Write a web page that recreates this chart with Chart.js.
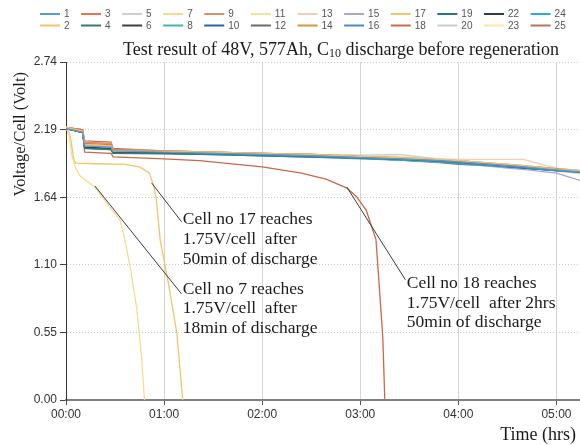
<!DOCTYPE html>
<html>
<head>
<meta charset="utf-8">
<script src="https://cdn.jsdelivr.net/npm/chart.js@4/dist/chart.umd.min.js"></script>
<style>
html,body{margin:0;padding:0;background:#fff;}
#c{display:block;}
</style>
</head>
<body>
<canvas id="c" width="580" height="445" style="width:580px;height:445px"></canvas>
<script>
// ---- data ----
const CELL_LABELS = ['1','2','3','4','5','6','7','8','9','10','11','12','13','14','15','16','17','18','19','20','22','23','24','25'];
const CELL_COLORS = ['#5b9bd5','#f1c36a','#e8734a','#2f7b78','#cfcfcf','#3a3f44','#f7dc8f','#3fb6b8','#d98f6e','#2a62a8','#f5e1a0','#6b6b6b',
                     '#f3cdb5','#d6973a','#a3a9d4','#4b8bc6','#f3c46a','#c86a45','#2b7391','#cccccc','#2f3a4f','#f9e7a6','#34a6d8','#b8735a'];
// shared time base (hours) for the cells that stay healthy
const T_NORMAL = [0, 0.17, 0.19, 0.46, 0.48, 1.0, 1.5, 2.0, 2.5, 3.0, 3.4, 3.8, 4.0, 4.5, 4.66, 5.0, 5.24];
const V1  = [2.20,2.17,2.06,2.05,2.02,2.01,2.00,1.99,1.98,1.965,1.955,1.94,1.93,1.90,1.89,1.865,1.85];
const V2  = [2.21,2.18,2.07,2.06,2.02,2.015,2.01,2.00,1.99,1.975,1.965,1.95,1.94,1.91,1.90,1.87,1.855];
const V3  = [2.21,2.19,2.08,2.07,2.03,2.02,2.01,2.00,1.99,1.975,1.96,1.945,1.935,1.905,1.895,1.87,1.855];
const V4  = [2.20,2.17,2.04,2.03,2.00,2.00,1.995,1.985,1.975,1.96,1.95,1.935,1.925,1.90,1.89,1.865,1.85];
const V5  = [2.21,2.18,2.06,2.05,2.02,2.02,2.01,2.00,1.99,1.985,1.99,1.955,1.94,1.91,1.90,1.87,1.86];
const V6  = [2.20,2.17,2.05,2.04,2.01,2.01,2.00,1.99,1.98,1.965,1.955,1.94,1.93,1.90,1.89,1.865,1.85];
const V8  = [2.20,2.17,2.05,2.04,2.01,2.005,1.995,1.985,1.975,1.96,1.945,1.93,1.92,1.895,1.885,1.86,1.845];
const V9  = [2.21,2.19,2.09,2.08,2.03,2.02,2.01,2.00,1.99,1.975,1.965,1.95,1.94,1.91,1.90,1.875,1.86];
const V10 = [2.20,2.17,2.05,2.04,2.01,2.005,1.995,1.985,1.975,1.965,1.95,1.935,1.92,1.89,1.88,1.86,1.845];
const V11 = [2.21,2.18,2.07,2.06,2.02,2.02,2.01,2.00,1.99,1.98,1.965,1.95,1.94,1.91,1.90,1.875,1.86];
const V12 = [2.20,2.17,2.05,2.04,2.01,2.01,2.00,1.99,1.98,1.97,1.955,1.94,1.93,1.90,1.89,1.865,1.85];
const V13 = [2.21,2.19,2.09,2.08,2.03,2.02,2.01,2.00,1.99,1.98,1.97,1.955,1.95,1.95,1.95,1.88,1.86];
const V14 = [2.21,2.18,2.07,2.06,2.02,2.015,2.005,1.995,1.985,1.97,1.96,1.945,1.935,1.905,1.895,1.87,1.855];
const V15 = [2.20,2.17,2.06,2.05,2.02,2.01,2.00,1.99,1.98,1.965,1.95,1.93,1.92,1.88,1.87,1.84,1.78];
const V16 = [2.20,2.17,2.05,2.04,2.01,2.005,1.995,1.985,1.975,1.96,1.945,1.925,1.91,1.89,1.88,1.86,1.85];
const V19 = [2.20,2.17,2.04,2.03,2.00,1.995,1.99,1.98,1.97,1.96,1.95,1.935,1.925,1.895,1.885,1.86,1.85];
const V20 = [2.21,2.18,2.06,2.05,2.02,2.015,2.005,1.995,1.985,1.975,1.965,1.95,1.94,1.90,1.885,1.855,1.835];
const V22 = [2.20,2.17,2.05,2.04,2.01,2.01,2.00,1.99,1.98,1.965,1.955,1.94,1.93,1.90,1.89,1.865,1.85];
const V23 = [2.21,2.18,2.06,2.05,2.02,2.015,2.005,1.995,1.985,1.975,1.965,1.95,1.94,1.91,1.90,1.875,1.86];
const V24 = [2.20,2.17,2.05,2.04,2.01,2.00,1.99,1.98,1.97,1.955,1.945,1.93,1.92,1.89,1.88,1.86,1.85];
const V25 = [2.21,2.19,2.10,2.09,2.04,2.02,2.01,2.00,1.99,1.975,1.965,1.95,1.94,1.91,1.90,1.875,1.86];
// failing cells, own time bases
const T7  = [0, 0.03, 0.06, 0.10, 0.14, 0.30, 0.47, 0.55, 0.60, 0.66, 0.72, 0.77, 0.80];
const V7  = [2.21, 2.15, 1.98, 1.88, 1.82, 1.72, 1.54, 1.46, 1.30, 1.05, 0.75, 0.35, 0.00];
const T17 = [0, 0.04, 0.08, 0.10, 0.30, 0.60, 0.75, 0.85, 0.90, 0.92, 0.96, 1.05, 1.13, 1.19];
const V17 = [2.21, 2.15, 1.95, 1.92, 1.915, 1.91, 1.89, 1.84, 1.72, 1.63, 1.30, 0.92, 0.54, 0.00];
const T18 = [0, 0.17, 0.19, 0.46, 0.48, 1.0, 1.36, 2.0, 2.4, 2.65, 2.86, 2.96, 3.06, 3.16, 3.20, 3.23, 3.25];
const V18 = [2.21, 2.19, 2.01, 2.00, 1.97, 1.955, 1.94, 1.89, 1.84, 1.79, 1.72, 1.65, 1.54, 1.30, 0.85, 0.50, 0.00];

const SERIES = {
  '1':[T_NORMAL,V1],'2':[T_NORMAL,V2],'3':[T_NORMAL,V3],'4':[T_NORMAL,V4],'5':[T_NORMAL,V5],'6':[T_NORMAL,V6],
  '7':[T7,V7],'8':[T_NORMAL,V8],'9':[T_NORMAL,V9],'10':[T_NORMAL,V10],'11':[T_NORMAL,V11],'12':[T_NORMAL,V12],
  '13':[T_NORMAL,V13],'14':[T_NORMAL,V14],'15':[T_NORMAL,V15],'16':[T_NORMAL,V16],'17':[T17,V17],'18':[T18,V18],
  '19':[T_NORMAL,V19],'20':[T_NORMAL,V20],'22':[T_NORMAL,V22],'23':[T_NORMAL,V23],'24':[T_NORMAL,V24],'25':[T_NORMAL,V25]
};

const X_TICKS = [0, 1, 2, 3, 4, 5];
const X_TICK_LABELS = ['00:00','01:00','02:00','03:00','04:00','05:00'];
const Y_TICKS = [0, 0.548, 1.096, 1.644, 2.192, 2.74];
const Y_TICK_LABELS = ['0.00','0.55','1.10','1.64','2.19','2.74'];

const TITLE_PARTS = ['Test result of 48V, 577Ah, C', '10', ' discharge before regeneration'];
const X_TITLE = 'Time (hrs)';
const Y_TITLE = 'Voltage/Cell (Volt)';

// annotations: leader line from (t0,v0) to (t1,v1), text anchored at (tx, line v's) in data units
const NOTES = [
  {line:[0.872,1.76,1.178,1.445], tx:1.19, ty:[1.46,1.30,1.14], text:['Cell no 17 reaches','1.75V/cell  after','50min of discharge']},
  {line:[0.295,1.735,1.178,0.86], tx:1.19, ty:[0.90,0.74,0.58], text:['Cell no 7 reaches','1.75V/cell  after','18min of discharge']},
  {line:[2.862,1.727,3.46,0.975], tx:3.474, ty:[0.948,0.786,0.632], text:['Cell no 18 reaches','1.75V/cell  after 2hrs','50min of discharge']}
];

// ---- chart ----
const datasets = CELL_LABELS.map((lab, i) => {
  const [tt, vv] = SERIES[lab];
  return {
    label: lab,
    data: tt.map((t, k) => ({x: t, y: vv[k]})),
    borderColor: CELL_COLORS[i],
    backgroundColor: CELL_COLORS[i],
    borderWidth: 1.3,
    pointRadius: 0,
    tension: 0,
    fill: false
  };
});

const SERIF = '"Liberation Serif", "Times New Roman", serif';
const SANS = '"Liberation Sans", Arial, sans-serif';

const decor = {
  id: 'decor',
  afterDraw(chart) {
    const ctx = chart.ctx;
    const xs = chart.scales.x, ys = chart.scales.y;
    ctx.save();
    // legend (two rows, columns pair consecutive datasets)
    ctx.font = '10px ' + SANS;
    ctx.textBaseline = 'middle';
    let x = 40;
    const ds = chart.data.datasets;
    for (let c = 0; c < Math.ceil(ds.length / 2); c++) {
      let maxW = 0;
      for (let r = 0; r < 2; r++) {
        const d = ds[c * 2 + r];
        if (!d) continue;
        const y = r === 0 ? 14 : 25.5;
        ctx.strokeStyle = d.borderColor;
        ctx.lineWidth = 2;
        ctx.beginPath(); ctx.moveTo(x, y); ctx.lineTo(x + 20, y); ctx.stroke();
        ctx.fillStyle = '#555';
        ctx.textAlign = 'left';
        ctx.fillText(d.label, x + 24, y + 0.5);
        maxW = Math.max(maxW, ctx.measureText(d.label).width);
      }
      x += 35.5 + maxW;
    }
    // title
    ctx.fillStyle = '#1a1a1a';
    const big = '18px ' + SERIF, small = '12px ' + SERIF;
    ctx.font = big; const w0 = ctx.measureText(TITLE_PARTS[0]).width; const w2 = ctx.measureText(TITLE_PARTS[2]).width;
    ctx.font = small; const w1 = ctx.measureText(TITLE_PARTS[1]).width;
    let tx = 341 - (w0 + w1 + w2) / 2;
    ctx.textAlign = 'left'; ctx.textBaseline = 'alphabetic';
    ctx.font = big; ctx.fillText(TITLE_PARTS[0], tx, 55);
    ctx.font = small; ctx.fillText(TITLE_PARTS[1], tx + w0, 57);
    ctx.font = big; ctx.fillText(TITLE_PARTS[2], tx + w0 + w1, 55);
    // axis titles
    ctx.font = '18px ' + SERIF;
    ctx.textAlign = 'right'; ctx.textBaseline = 'middle';
    ctx.fillText(X_TITLE, 576, 435);
    ctx.font = '16.5px ' + SERIF;
    ctx.save();
    ctx.translate(21, 72); ctx.rotate(-Math.PI / 2);
    ctx.textAlign = 'right';
    ctx.fillText(Y_TITLE, 0, 0);
    ctx.restore();
    // annotations
    ctx.strokeStyle = '#3c3c3c'; ctx.lineWidth = 1;
    ctx.font = '17.5px ' + SERIF; ctx.textAlign = 'left'; ctx.textBaseline = 'middle';
    NOTES.forEach(n => {
      ctx.beginPath();
      ctx.moveTo(xs.getPixelForValue(n.line[0]), ys.getPixelForValue(n.line[1]));
      ctx.lineTo(xs.getPixelForValue(n.line[2]), ys.getPixelForValue(n.line[3]));
      ctx.stroke();
      n.text.forEach((s, k) => ctx.fillText(s, xs.getPixelForValue(n.tx), ys.getPixelForValue(n.ty[k])));
    });
    ctx.restore();
  }
};

new Chart(document.getElementById('c'), {
  type: 'line',
  data: {datasets},
  options: {
    responsive: false,
    animation: false,
    devicePixelRatio: 1,
    layout: {padding: {top: 62, left: 0, right: 0, bottom: 0}},
    plugins: {legend: {display: false}, title: {display: false}, tooltip: {enabled: false}},
    scales: {
      x: {
        type: 'linear', min: 0, max: 5.24,
        afterBuildTicks: s => { s.ticks = X_TICKS.map(v => ({value: v})); },
        afterFit: s => { s.height = 45; },
        ticks: {callback: (v, i) => X_TICK_LABELS[i], color: '#333', font: {family: SANS, size: 12}, padding: 2, maxRotation: 0, autoSkip: false},
        grid: {color: '#d4d4d4', lineWidth: 1, tickColor: '#555', tickLength: 5},
        border: {color: '#808080', width: 2}
      },
      y: {
        type: 'linear', min: 0, max: 2.74,
        afterBuildTicks: s => { s.ticks = Y_TICKS.map(v => ({value: v})); },
        afterFit: s => { s.width = 66; },
        ticks: {callback: (v, i) => Y_TICK_LABELS[i], color: '#333', font: {family: SANS, size: 12}, padding: 3, autoSkip: false},
        grid: {color: '#c8c8c8', lineWidth: 1, tickColor: '#444', tickLength: 6},
        border: {color: '#333', width: 1, dash: [1, 2]}
      }
    }
  },
  plugins: [decor]
});
</script>
</body>
</html>
